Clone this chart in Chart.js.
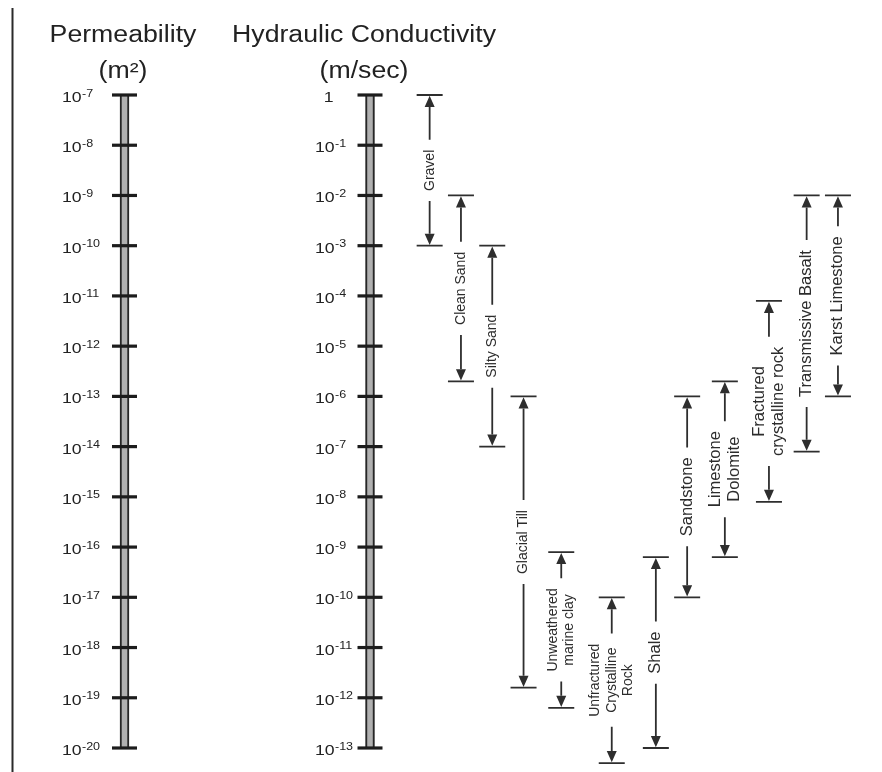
<!DOCTYPE html>
<html>
<head>
<meta charset="utf-8">
<title>Permeability and Hydraulic Conductivity</title>
<script src="https://cdn.jsdelivr.net/npm/chart.js@4.4.1/dist/chart.umd.min.js"></script>
<style>
  html, body { margin: 0; padding: 0; background: #ffffff; }
  #wrap { width: 882px; height: 772px; position: relative; }
</style>
</head>
<body>
<div id="wrap"><canvas id="chart"></canvas></div>
<script>
// ---- Data ---------------------------------------------------------------
// Decade exponents printed on the two scale columns
const permeabilityExponents = [-7, -8, -9, -10, -11, -12, -13, -14, -15, -16, -17, -18, -19, -20]; // m²
const conductivityExponents = [0, -1, -2, -3, -4, -5, -6, -7, -8, -9, -10, -11, -12, -13];          // m/sec

// Materials (label lines) and their hydraulic conductivity range, log10(m/sec)
const materialLabels = [
  ['Gravel'],
  ['Clean Sand'],
  ['Silty Sand'],
  ['Glacial Till'],
  ['Unweathered', 'marine clay'],
  ['Unfractured', 'Crystalline', 'Rock'],
  ['Shale'],
  ['Sandstone'],
  ['Limestone', 'Dolomite'],
  ['Fractured', 'crystalline rock'],
  ['Transmissive Basalt'],
  ['Karst Limestone']
];
const conductivityHighLog = [0, -2, -3, -6, -9.1, -10, -9.2, -6, -5.7, -4.1, -2, -2];
const conductivityLowLog  = [-3, -5.7, -7, -11.8, -12.2, -13.3, -13, -10, -9.2, -8.1, -7.1, -6];

// ---- Presentation -------------------------------------------------------
const FONT = '"Liberation Sans", Arial, Helvetica, sans-serif';
const INK = '#222222';
const LINE_INK = '#2e2e2e';
const labelFontSize = [14, 14, 14, 14, 14, 14, 16.5, 16.5, 16.5, 16.5, 16.5, 16.5];
const textStretch = 1.14;          // horizontal widening of the upright lettering

// Each material column is as wide as its rotated label needs
const columnPadding = 18.5;
const columnLineStep = 12.8;
const columnWidths = materialLabels.map(lines => columnPadding + columnLineStep * lines.length);
const columnCenters = [];
let trackWidth = 0;
columnWidths.forEach(w => { columnCenters.push(trackWidth + w / 2); trackWidth += w; });

// The two scale columns, each bound to its own y scale
const scaleColumns = [
  { scaleID: 'yP', x: 124.5, labelLeft: 62, titleX: 123, exponents: permeabilityExponents,
    title: ['Permeability', '(m²)'] },
  { scaleID: 'yK', x: 370, labelLeft: 315, titleX: 364, exponents: conductivityExponents,
    title: ['Hydraulic Conductivity', '(m/sec)'] }
];
const titleBaselines = [42, 78];

function stretchedText(ctx, text, x, y, align, sx) {
  ctx.save();
  ctx.translate(x, y);
  ctx.scale(sx, 1);
  ctx.textAlign = align;
  ctx.fillText(text, 0, 0);
  ctx.restore();
}

function powerLabel(ctx, exp, left, y) {
  ctx.fillStyle = INK;
  ctx.textBaseline = 'alphabetic';
  ctx.font = '15.5px ' + FONT;
  const tenW = ctx.measureText('10').width * textStretch;
  if (exp === 0) {
    stretchedText(ctx, '1', left + tenW - 1, y + 7, 'right', textStretch);
    return;
  }
  stretchedText(ctx, '10', left, y + 7, 'left', textStretch);
  ctx.font = '11px ' + FONT;
  stretchedText(ctx, String(exp), left + tenW + 0.3, y + 1.5, 'left', textStretch);
}

const scaleColumnsPlugin = {
  id: 'scaleColumns',
  afterDraw(chart) {
    const ctx = chart.ctx;
    ctx.save();

    // page rule on the left
    ctx.strokeStyle = '#2a2a2a';
    ctx.lineWidth = 2;
    ctx.beginPath();
    ctx.moveTo(12.5, 8);
    ctx.lineTo(12.5, chart.height);
    ctx.stroke();

    scaleColumns.forEach(col => {
      const scale = chart.scales[col.scaleID];
      const yTop = scale.getPixelForValue(scale.max);
      const yBot = scale.getPixelForValue(scale.min);

      // shaded column
      ctx.fillStyle = '#b0b0b0';
      ctx.fillRect(col.x - 4.5, yTop, 9, yBot - yTop);
      ctx.strokeStyle = '#262626';
      ctx.lineWidth = 1.8;
      ctx.beginPath();
      ctx.moveTo(col.x - 3.7, yTop); ctx.lineTo(col.x - 3.7, yBot);
      ctx.moveTo(col.x + 3.7, yTop); ctx.lineTo(col.x + 3.7, yBot);
      ctx.stroke();

      // decade ticks and labels
      col.exponents.forEach(exp => {
        const y = scale.getPixelForValue(exp);
        ctx.strokeStyle = '#1c1c1c';
        ctx.lineWidth = 3.2;
        ctx.beginPath();
        ctx.moveTo(col.x - 12.5, y);
        ctx.lineTo(col.x + 12.5, y);
        ctx.stroke();
        powerLabel(ctx, exp, col.labelLeft, y);
      });

      // column title
      ctx.fillStyle = INK;
      ctx.font = '23px ' + FONT;
      ctx.textBaseline = 'alphabetic';
      col.title.forEach((line, k) => {
        stretchedText(ctx, line, col.titleX, titleBaselines[k], 'center', 1.16);
      });
    });
    ctx.restore();
  }
};

const rangeMarkersPlugin = {
  id: 'rangeMarkers',
  afterDraw(chart) {
    const ctx = chart.ctx;
    const xs = chart.scales.x;
    const ys = chart.scales.yK;
    const capHalf = 13, arrowLen = 12, arrowHalf = 5, gap = 10;
    ctx.save();
    materialLabels.forEach((lines, i) => {
      const x = xs.getPixelForValue(columnCenters[i]);
      const yT = ys.getPixelForValue(conductivityHighLog[i]);
      const yB = ys.getPixelForValue(conductivityLowLog[i]);
      const size = labelFontSize[i];
      ctx.font = size + 'px ' + FONT;
      const textLen = Math.max(...lines.map(l => ctx.measureText(l).width));
      const mid = (yT + yB) / 2;

      ctx.strokeStyle = LINE_INK;
      ctx.fillStyle = LINE_INK;
      ctx.lineWidth = 1.8;

      // end caps
      ctx.beginPath();
      ctx.moveTo(x - capHalf, yT); ctx.lineTo(x + capHalf, yT);
      ctx.moveTo(x - capHalf, yB); ctx.lineTo(x + capHalf, yB);
      // shafts either side of the label
      ctx.moveTo(x, yT + arrowLen); ctx.lineTo(x, mid - textLen / 2 - gap);
      ctx.moveTo(x, mid + textLen / 2 + gap); ctx.lineTo(x, yB - arrowLen);
      ctx.stroke();

      // arrowheads pointing at the caps
      ctx.beginPath();
      ctx.moveTo(x, yT + 0.8);
      ctx.lineTo(x - arrowHalf, yT + arrowLen);
      ctx.lineTo(x + arrowHalf, yT + arrowLen);
      ctx.closePath();
      ctx.moveTo(x, yB - 0.8);
      ctx.lineTo(x - arrowHalf, yB - arrowLen);
      ctx.lineTo(x + arrowHalf, yB - arrowLen);
      ctx.closePath();
      ctx.fill();

      // rotated label, reading upward
      const lh = size * 1.18;
      ctx.save();
      ctx.translate(x, mid);
      ctx.rotate(-Math.PI / 2);
      ctx.fillStyle = '#2c2c2c';
      ctx.textAlign = 'center';
      ctx.textBaseline = 'middle';
      lines.forEach((line, k) => {
        ctx.fillText(line, 0, (k - (lines.length - 1) / 2) * lh);
      });
      ctx.restore();
    });
    ctx.restore();
  }
};

const rangePoints = [];
materialLabels.forEach((_, i) => {
  rangePoints.push({ x: columnCenters[i], y: conductivityHighLog[i] });
  rangePoints.push({ x: columnCenters[i], y: conductivityLowLog[i] });
});

const chartWidth = 882;
const trackLeft = 414;

new Chart(document.getElementById('chart'), {
  type: 'scatter',
  data: {
    datasets: [{
      label: 'Hydraulic conductivity range',
      data: rangePoints,
      xAxisID: 'x',
      yAxisID: 'yK',
      pointRadius: 0,
      showLine: false
    }]
  },
  options: {
    responsive: true,
    maintainAspectRatio: false,
    animation: false,
    devicePixelRatio: 1,
    events: [],
    layout: { padding: { top: 95, bottom: 24, left: trackLeft, right: chartWidth - trackLeft - trackWidth } },
    plugins: { legend: { display: false }, tooltip: { enabled: false } },
    scales: {
      x: { type: 'linear', display: false, min: 0, max: trackWidth },
      yK: { type: 'linear', axis: 'y', display: false,
            min: Math.min(...conductivityExponents), max: Math.max(...conductivityExponents) },
      yP: { type: 'linear', axis: 'y', display: false,
            min: Math.min(...permeabilityExponents), max: Math.max(...permeabilityExponents) }
    }
  },
  plugins: [scaleColumnsPlugin, rangeMarkersPlugin]
});
</script>
</body>
</html>
